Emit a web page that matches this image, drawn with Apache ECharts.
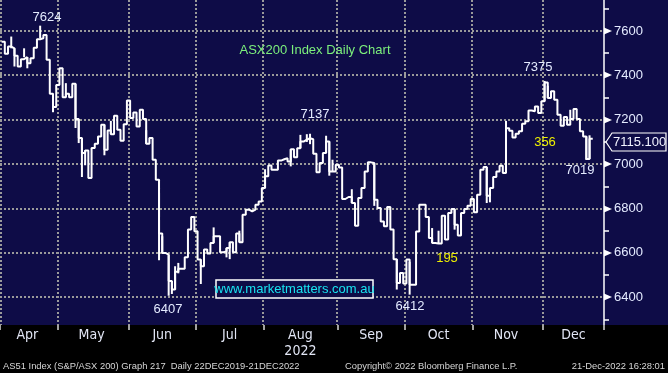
<!DOCTYPE html>
<html><head><meta charset="utf-8">
<script src="https://cdn.jsdelivr.net/npm/echarts@6/dist/echarts.min.js"></script>
<style>html,body{margin:0;padding:0;background:#000;}#c{width:668px;height:373px;}</style>
</head><body><div id="c"></div>
<script>
// ---- data ----
const monthNames = ['Apr','May','Jun','Jul','Aug','Sep','Oct','Nov','Dec'];
const monthDays  = [18,22,21,21,23,21,21,22,15];
const aprClose = [7552,7498,7530,7522,7489,7440,7473,7482,7455,7477,7525,7563,7567,7582,7470,7317,7257,7357];
const mayClose = [7432,7302,7317,7302,7362,7203,7118,7050,7062,6938,7073,7092,7125,7178,7065,7152,7135,7218,7155,7105,7180,7287];
const junClose = [7208,7233,7170,7245,7203,7092,7118,7020,6930,6687,6600,6592,6473,6435,6515,6529,6529,6580,6705,6762,6698];
const julClose = [6570,6540,6615,6597,6645,6675,6675,6603,6607,6622,6648,6603,6687,6648,6772,6795,6787,6795,6817,6832,6892];
const augClose = [6945,6994,6975,6975,7016,7022,7027,7012,7067,7031,7072,7102,7110,7117,7112,7047,6963,7005,7050,7102,6967,6967,6997];
const sepClose = [6985,6843,6852,6852,6825,6722,6847,6892,6967,7008,7005,6840,6802,6742,6720,6807,6705,6572,6465,6510,6462];
const octClose = [6570,6457,6457,6697,6817,6817,6762,6667,6645,6642,6642,6768,6660,6780,6798,6727,6678,6780,6798,6813,6843];
const novClose = [6783,6862,6975,6987,6858,6892,6942,6967,6993,6960,7162,7150,7120,7137,7148,7182,7193,7242,7238,7260,7230,7283];
const decClose = [7368,7298,7328,7290,7223,7173,7212,7178,7203,7248,7203,7148,7125,7023,7115];
// intraday extremes that stick out of the step line: [day index, low, high]
const wicks = [
  [3,7522,7575],[4,7440,7522],[7,7482,7522],[8,7432,7482],[12,7567,7624],[16,7234,7317],
  [20,7302,7365],[23,7163,7362],[24,7095,7203],[25,6942,7118],[26,6995,7062],[32,7040,7178],[34,7135,7195],
  [45,7092,7153],[49,6567,6930],[50,6600,6675],[52,6407,6592],[53,6415,6473],[54,6435,6540],[55,6508,6555],
  [62,6460,6570],[66,6645,6715],[70,6580,6622],[71,6572,6648],[74,6648,6700],
  [82,6892,6977],[90,6990,7067],[93,7072,7132],[95,7100,7135],[96,7090,7137],[101,7050,7128],[102,6948,7102],[103,6967,7020],
  [109,6825,6887],[116,6812,7005],[123,6435,6572],
  [127,6412,6560],[134,6645,6712],[136,6642,6700],[138,6660,6768],[141,6705,6798],
  [151,6825,6987],[152,6828,6892],[157,7150,7195],
  [169,7283,7375],[170,7298,7353],[177,7203,7245],[182,7019,7125],[183,7023,7130]
];
const yLabels = [6400,6600,6800,7000,7200,7400,7600];
const yTickStep = 200;
const lastPrice = '7115.100';
const padSlots = 4;

// ---- build ----
const closes = [].concat(aprClose,mayClose,junClose,julClose,augClose,sepClose,octClose,novClose,decClose);
const categories = [];
const monthStart = [];
monthNames.forEach((m, mi) => {
  monthStart.push(categories.length);
  for (let d = 1; d <= monthDays[mi]; d++) categories.push(m + '-' + d);
});
for (let p = 1; p <= padSlots; p++) { categories.push('pad' + p); closes.push(null); }
const startSet = new Set(monthStart);
const labelAt = {};
monthNames.forEach((m, mi) => {
  const s = monthStart[mi];
  const e = mi === monthNames.length - 1 ? categories.length : monthStart[mi + 1];
  labelAt[Math.floor((s + e - 1) / 2)] = m;
});

const W = 668, H = 373, plotR = 604, plotB = 325;
const NAVY = '#0e0c47';
const GRIDC = '#9a9a9a';
const numFont = 'Liberation Sans, Arial, sans-serif';
const narrow = '"Liberation Sans Narrow", "DejaVu Sans Condensed", "Liberation Sans", sans-serif';
const gridTopVal = 7800, gridBotVal = 6200;
const pxPerUnit = (297.3 - 31) / 1200;
const gTop = 31 - (gridTopVal - 7600) * pxPerUnit;
const gBot = 297.3 + (6400 - gridBotVal) * pxPerUnit;

const chart = echarts.init(document.getElementById('c'));
const noteText = (t, x, y, color) => ({
  type: 'text', z: 20, x: x, y: y,
  style: { text: t, fill: color || '#e4ebff', font: '13px ' + numFont, align: 'center', verticalAlign: 'middle' }
});
const footFont = '9.4px ' + numFont;
chart.setOption({
  animation: false,
  backgroundColor: NAVY,
  grid: { left: 0, right: W - plotR, top: gTop, bottom: H - gBot, containLabel: false, outerBoundsMode: 'none' },
  xAxis: [
    { type: 'category', data: categories, boundaryGap: true, position: 'bottom',
      axisLine: { show: false }, axisTick: { show: false }, axisLabel: { show: false },
      splitLine: { show: false } },
    { type: 'category', data: categories, boundaryGap: true, position: 'bottom', gridIndex: 0,
      offset: -(gBot - plotB), z: 10,
      axisLine: { show: false },
      axisTick: { show: true, interval: (i) => startSet.has(i), length: 5, lineStyle: { color: '#d8d8d8', width: 1.5 } },
      axisLabel: { show: true, interval: (i) => labelAt[i] !== undefined, margin: 2,
        formatter: (v, i) => labelAt[i] === 'Aug' ? 'Aug\n2022' : (labelAt[i] || ''),
        color: '#e2e6f5', fontSize: 14, lineHeight: 16, fontFamily: narrow },
      splitLine: { show: false } }
  ],
  yAxis: {
    type: 'value', position: 'right', min: gridBotVal, max: gridTopVal, interval: yTickStep,
    axisLine: { show: true, lineStyle: { color: '#ffffff', width: 1.5 } },
    axisTick: { show: false },
    minorTick: { show: true, splitNumber: 2, length: 5, lineStyle: { color: '#ffffff', width: 1.5 } },
    splitLine: { show: false },
    minorSplitLine: { show: false },
    axisLabel: { margin: 10, color: '#e4ebff', fontSize: 13, fontFamily: numFont, formatter: (v) => String(v) }
  },
  series: [
    // vertical dotted grid lines at month boundaries
    { type: 'custom', xAxisIndex: 0, data: monthStart.map((s) => [s, gridBotVal]), encode: { x: 0, y: 1 },
      z: 1, silent: true, clip: false,
      renderItem: (params, api) => {
        const bw = api.size([1, 0])[0];
        let x = Math.round(api.coord([api.value(0), api.value(1)])[0] - bw / 2);
        if (x < 1) x = 1;
        return { type: 'line', shape: { x1: x, y1: 0, x2: x, y2: plotB },
                 style: { stroke: GRIDC, lineWidth: 2, lineDash: [2, 2] } };
      } },
    // horizontal dotted grid lines
    { type: 'custom', xAxisIndex: 0, data: yLabels.map((v) => [0, v]), encode: { x: 0, y: 1 },
      z: 1, silent: true, clip: false,
      renderItem: (params, api) => {
        const y = Math.round(api.coord([0, api.value(1)])[1]);
        return { type: 'line', shape: { x1: 0, y1: y, x2: plotR, y2: y },
                 style: { stroke: GRIDC, lineWidth: 2, lineDash: [2, 2] } };
      } },
    // arrow markers on the price axis
    { type: 'custom', xAxisIndex: 0, data: yLabels.map((v) => [0, v]), encode: { x: 0, y: 1 },
      z: 12, silent: true, clip: false,
      renderItem: (params, api) => {
        const y = Math.round(api.coord([0, api.value(1)])[1]);
        return { type: 'polygon', shape: { points: [[604, y - 3.5], [612, y], [604, y + 3.5]] },
                 style: { fill: '#ffffff' } };
      } },
    { type: 'line', xAxisIndex: 0, data: closes, step: 'end', showSymbol: false, symbol: 'none',
      lineStyle: { color: '#ffffff', width: 2 }, z: 3, connectNulls: false },
    { type: 'custom', xAxisIndex: 0, data: wicks, encode: { x: 0, y: [1, 2] }, z: 3,
      renderItem: (params, api) => {
        const a = api.coord([api.value(0), api.value(1)]);
        const b = api.coord([api.value(0), api.value(2)]);
        return { type: 'line', shape: { x1: a[0], y1: a[1], x2: b[0], y2: b[1] },
                 style: { stroke: '#ffffff', lineWidth: 2 } };
      } }
  ],
  graphic: [
    { type: 'rect', z: 5, shape: { x: 0, y: plotB, width: W, height: H - plotB }, style: { fill: '#000000' } },
    noteText('7624', 47, 17), noteText('7137', 315, 114), noteText('6407', 168, 309),
    noteText('6412', 410, 306), noteText('7375', 538, 67), noteText('7019', 580, 170),
    noteText('195', 447, 258, '#eef000'), noteText('356', 545, 142, '#eef000'),
    { type: 'text', z: 20, x: 315, y: 50, style: { text: 'ASX200 Index Daily Chart', fill: '#7cf07c', font: '13px ' + numFont, align: 'center', verticalAlign: 'middle' } },
    { type: 'rect', z: 20, shape: { x: 216, y: 280, width: 157, height: 18 }, style: { fill: NAVY, stroke: '#ffffff', lineWidth: 1.5 } },
    { type: 'text', z: 21, x: 294.5, y: 289, style: { text: 'www.marketmatters.com.au', fill: '#18e4f0', font: '13px ' + numFont, align: 'center', verticalAlign: 'middle' } },
    { type: 'polygon', z: 20, shape: { points: [[606, 142], [612, 133], [666, 133], [666, 151], [612, 151]] }, style: { fill: NAVY, stroke: '#ffffff', lineWidth: 1.2 } },
    { type: 'text', z: 21, x: 613, y: 142.5, style: { text: lastPrice, fill: '#f2f4ff', font: '13px ' + numFont, align: 'left', verticalAlign: 'middle' } },
    { type: 'text', z: 21, x: 3, y: 366, style: { text: 'AS51 Index (S&P/ASX 200) Graph 217  Daily 22DEC2019-21DEC2022', fill: '#d6d6d6', font: footFont, align: 'left', verticalAlign: 'middle' } },
    { type: 'text', z: 21, x: 345, y: 366, style: { text: 'Copyright\u00A9 2022 Bloomberg Finance L.P.', fill: '#d6d6d6', font: footFont, align: 'left', verticalAlign: 'middle' } },
    { type: 'text', z: 21, x: 665, y: 366, style: { text: '21-Dec-2022 16:28:01', fill: '#d6d6d6', font: footFont, align: 'right', verticalAlign: 'middle' } }
  ]
});
</script></body></html>
